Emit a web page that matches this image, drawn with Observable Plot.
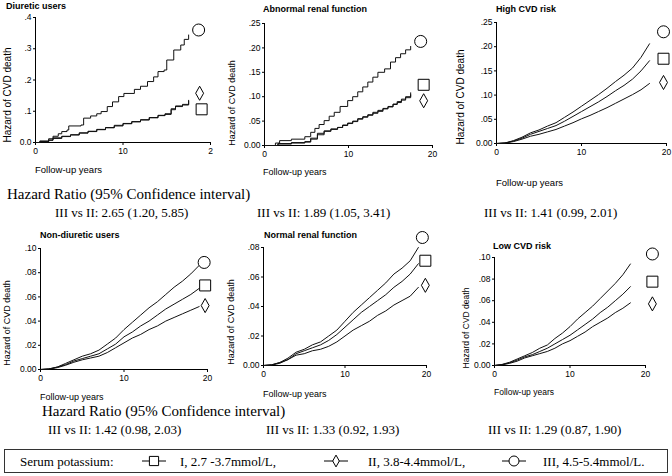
<!DOCTYPE html>
<html>
<head>
<meta charset="utf-8">
<script src="https://cdn.jsdelivr.net/npm/d3@7"></script>
<script src="https://cdn.jsdelivr.net/npm/@observablehq/plot@0.6"></script>
<style>
  body { margin: 0; background: #fff; }
  #root { position: relative; width: 672px; height: 476px; overflow: hidden; background: #fff; font-family: "Liberation Sans", Arial, sans-serif; color: #000; }
  .abs { position: absolute; white-space: nowrap; line-height: 1; }
  .ttl { font-weight: bold; font-size: 9px; transform: translateY(-50%); }
  .ylab { transform: translate(-50%, -50%) rotate(-90deg); }
  .xlab { transform: translateY(-50%); }
  .serif { font-family: "Liberation Serif", "Times New Roman", serif; }
  .hr { font-size: 15px; transform: translateY(-50%); }
  .cmp { font-size: 13px; transform: translateY(-50%); }
  .legend { position: absolute; left: 4px; top: 449px; width: 664px; height: 24px; border: 1px solid #333; box-sizing: border-box; }
  .pan { position: absolute; }
  .pan svg { max-width: none !important; }
</style>
</head>
<body>
<div id="root"></div>
<script>
// ---------- DATA ----------
const groups = ["I", "II", "III"];
const groupLabels = ["I, 2.7 -3.7mmol/L,", "II, 3.8-4.4mmol/L,", "III, 4.5-5.4mmol/L."];
const panelTitles = ["Diuretic users", "Abnormal renal function", "High CVD risk",
                     "Non-diuretic users", "Normal renal function", "Low CVD risk"];
const hazardRatios = ["III vs II: 2.65 (1.20, 5.85)", "III vs II: 1.89 (1.05, 3.41)", "III vs II: 1.41 (0.99, 2.01)",
                      "III vs II: 1.42 (0.98, 2.03)", "III vs II: 1.33 (0.92, 1.93)", "III vs II: 1.29 (0.87, 1.90)"];
const xTicks = [0, 10, 20];

// Panel 1: Diuretic users (step curves)
const p1_III_t = [0, 0.5, 1.5, 2.0, 2.6, 3.0, 3.6, 3.8, 5.2, 5.5, 6.3, 7.0, 7.5, 8.2, 8.8, 9.5, 10.1, 11.3, 12.0, 12.8, 13.5, 14.0, 14.7, 15.0, 15.8, 16.6, 17.0, 17.5];
const p1_III_y = [0, 0.005, 0.012, 0.02, 0.028, 0.035, 0.04, 0.053, 0.056, 0.078, 0.085, 0.092, 0.099, 0.115, 0.13, 0.147, 0.157, 0.17, 0.18, 0.195, 0.21, 0.227, 0.232, 0.264, 0.296, 0.312, 0.33, 0.344];
const p1_lo_t  = [0, 0.5, 1.5, 2.0, 3.0, 4.0, 5.0, 6.0, 7.0, 8.0, 9.0, 10.0, 11.0, 12.0, 13.0, 14.0, 14.8, 15.5, 16.0, 16.8, 17.5];
const p1_I_y   = [0, 0.003, 0.008, 0.015, 0.02, 0.024, 0.03, 0.036, 0.042, 0.047, 0.053, 0.06, 0.066, 0.073, 0.08, 0.086, 0.09, 0.105, 0.115, 0.12, 0.135];
const p1_II_y  = [0, 0.002, 0.007, 0.013, 0.019, 0.025, 0.031, 0.035, 0.041, 0.048, 0.055, 0.061, 0.067, 0.072, 0.079, 0.087, 0.092, 0.108, 0.117, 0.122, 0.132];

// Panel 2: Abnormal renal function (step curves)
const p2_III_t = [0, 1.3, 1.8, 3.2, 4.8, 5.5, 6.0, 6.5, 7.1, 7.7, 8.3, 9.0, 9.9, 10.5, 11.1, 11.7, 12.3, 12.9, 13.5, 14.3, 15.0, 15.6, 16.2, 16.8, 17.4];
const p2_III_y = [0, 0.005, 0.01, 0.013, 0.018, 0.027, 0.035, 0.043, 0.051, 0.06, 0.068, 0.08, 0.092, 0.1, 0.11, 0.12, 0.13, 0.14, 0.15, 0.157, 0.171, 0.18, 0.188, 0.196, 0.203];
const p2_lo_t  = [0, 1.6, 3.2, 4.8, 5.5, 6.3, 7.1, 7.9, 8.7, 9.3, 9.9, 10.5, 11.1, 11.7, 12.3, 12.9, 13.5, 14.1, 14.7, 15.3, 15.8, 16.3, 16.8, 17.4];
const p2_I_y   = [0, 0.004, 0.006, 0.008, 0.015, 0.025, 0.03, 0.034, 0.037, 0.041, 0.045, 0.05, 0.055, 0.059, 0.063, 0.068, 0.072, 0.076, 0.08, 0.085, 0.09, 0.095, 0.1, 0.108];
const p2_II_y  = [0, 0.003, 0.005, 0.007, 0.013, 0.022, 0.029, 0.033, 0.037, 0.042, 0.046, 0.049, 0.054, 0.058, 0.062, 0.066, 0.07, 0.075, 0.079, 0.084, 0.088, 0.093, 0.098, 0.104];

// Panel 3: High CVD risk
const p3_t     = [0, 1, 2, 3, 4, 5, 6, 7, 8, 9, 10, 11, 12, 13, 14, 15, 16, 17, 18];
const p3_III_y = [0, 0.001, 0.006, 0.013, 0.022, 0.028, 0.036, 0.043, 0.054, 0.065, 0.077, 0.089, 0.101, 0.114, 0.128, 0.141, 0.156, 0.178, 0.206];
const p3_I_y   = [0, 0.001, 0.005, 0.011, 0.019, 0.025, 0.031, 0.037, 0.046, 0.056, 0.066, 0.076, 0.086, 0.097, 0.109, 0.12, 0.133, 0.15, 0.171];
const p3_II_y  = [0, 0.001, 0.004, 0.009, 0.015, 0.019, 0.024, 0.029, 0.036, 0.043, 0.051, 0.058, 0.066, 0.074, 0.083, 0.092, 0.101, 0.111, 0.124];

// Panel 4: Non-diuretic users
const p4_t     = [0, 1, 2, 3, 4, 5, 6, 7, 8, 9, 10, 11, 12, 13, 14, 15, 16, 17, 18, 19];
const p4_III_y = [0, 0.0005, 0.002, 0.005, 0.008, 0.011, 0.013, 0.016, 0.021, 0.026, 0.033, 0.039, 0.045, 0.051, 0.056, 0.062, 0.068, 0.073, 0.079, 0.086];
const p4_I_y   = [0, 0.0004, 0.002, 0.004, 0.007, 0.009, 0.011, 0.013, 0.017, 0.021, 0.027, 0.031, 0.036, 0.04, 0.045, 0.05, 0.054, 0.058, 0.062, 0.067];
const p4_II_y  = [0, 0.0003, 0.0015, 0.0035, 0.006, 0.008, 0.0095, 0.011, 0.014, 0.018, 0.022, 0.026, 0.029, 0.033, 0.036, 0.04, 0.043, 0.046, 0.049, 0.052];

// Panel 5: Normal renal function
const p5_t     = [0, 1, 2, 3, 4, 5, 6, 7, 8, 9, 10, 11, 12, 13, 14, 15, 16, 17, 18, 19];
const p5_III_y = [0, 0.0005, 0.002, 0.005, 0.009, 0.011, 0.014, 0.016, 0.02, 0.024, 0.03, 0.036, 0.041, 0.046, 0.051, 0.056, 0.062, 0.066, 0.071, 0.08];
const p5_I_y   = [0, 0.0004, 0.002, 0.004, 0.008, 0.01, 0.012, 0.014, 0.017, 0.021, 0.026, 0.031, 0.036, 0.04, 0.044, 0.048, 0.053, 0.057, 0.062, 0.069];
const p5_II_y  = [0, 0.0003, 0.0015, 0.004, 0.007, 0.008, 0.01, 0.011, 0.013, 0.016, 0.02, 0.024, 0.027, 0.03, 0.034, 0.037, 0.041, 0.044, 0.047, 0.053];

// Panel 6: Low CVD risk
const p6_t     = [0, 1, 2, 3, 4, 5, 6, 7, 8, 9, 10, 11, 12, 13, 14, 15, 16, 17, 18];
const p6_III_y = [0, 0.001, 0.003, 0.006, 0.009, 0.012, 0.016, 0.019, 0.025, 0.03, 0.036, 0.043, 0.049, 0.055, 0.062, 0.069, 0.076, 0.084, 0.094];
const p6_I_y   = [0, 0.0008, 0.0025, 0.005, 0.008, 0.01, 0.013, 0.016, 0.02, 0.024, 0.028, 0.033, 0.038, 0.043, 0.049, 0.054, 0.06, 0.066, 0.073];
const p6_II_y  = [0, 0.0006, 0.002, 0.004, 0.007, 0.009, 0.011, 0.013, 0.016, 0.02, 0.023, 0.027, 0.031, 0.036, 0.04, 0.044, 0.049, 0.053, 0.058];

// ---------- helpers ----------
const root = document.getElementById("root");
function addText(cls, text, left, top, extra) {
  const d = document.createElement("div");
  d.className = "abs " + cls;
  d.textContent = text;
  d.style.left = left + "px";
  d.style.top = top + "px";
  if (extra) Object.assign(d.style, extra);
  root.appendChild(d);
  return d;
}
const tallDiamond = {
  draw(ctx, size) {
    const s = Math.sqrt(size), w = s * 0.36, h = s * 0.64;
    ctx.moveTo(0, -h); ctx.lineTo(w, 0); ctx.lineTo(0, h); ctx.lineTo(-w, 0); ctx.closePath();
  }
};
const symbols = {I: "square", II: tallDiamond, III: "circle"};
const radii = {I: 6.2, II: 6.2, III: 6};

function series(key, t, y) { return t.map((d, i) => ({s: key, t: d, v: y[i]})); }

function fmt1(d) { return d === 0 ? "0.0" : d3.format(".1f")(d).replace(/^0/, ""); }
function fmt2(d) { return d === 0 ? "0.00" : d3.format(".2f")(d).replace(/^0/, ""); }

function panel(cfg) {
  const rows = cfg.series.flat();
  const marks = [
    Plot.ruleX([0], {stroke: "#000", strokeWidth: 1}),
    Plot.ruleY([0], {stroke: "#000", strokeWidth: 1}),
    Plot.line(rows, {x: "t", y: "v", z: "s", curve: cfg.curve, stroke: "#111", strokeWidth: 1})
  ];
  for (const g of groups) {
    const pts = rows.filter(r => r.s === g);
    const last = pts[pts.length - 1];
    const o = cfg.markers[g];
    marks.push(Plot.dot([last], {x: "t", y: "v", symbol: symbols[g], r: radii[g], dx: o[0], dy: o[1],
      stroke: "#000", strokeWidth: 1, fill: "#fff"}));
  }
  const svg = Plot.plot({
    width: cfg.width, height: cfg.height,
    marginLeft: cfg.ml, marginRight: cfg.mr, marginTop: cfg.mt, marginBottom: cfg.mb,
    x: {domain: [0, 20], ticks: xTicks, tickFormat: cfg.xfmt || (d => String(d)), tickSize: 3, tickPadding: 2, label: null},
    y: {domain: [0, cfg.ymax], ticks: cfg.yticks, tickFormat: cfg.fmt, tickSize: 2, tickPadding: 2, label: null},
    style: {fontFamily: "'Liberation Sans', Arial, sans-serif", fontSize: "8.5px", color: "#000", background: "transparent", overflow: "visible", maxWidth: "none"},
    marks
  });
  svg.style.maxWidth = "none";
  const wrap = document.createElement("div");
  wrap.className = "pan";
  wrap.style.left = cfg.left + "px";
  wrap.style.top = cfg.top + "px";
  wrap.style.width = cfg.width + "px";
  wrap.style.height = cfg.height + "px";
  wrap.appendChild(svg);
  root.appendChild(wrap);
}

const yt25 = [0, 0.05, 0.1, 0.15, 0.2, 0.25];
const yt10 = [0, 0.02, 0.04, 0.06, 0.08, 0.1];

// the first panel's "20" label is cut to "2" in the source figure
panel({left: 0, top: 0, width: 224, height: 185, ml: 35, mr: 14, mt: 17, mb: 43,
  xfmt: d => d === 20 ? "2" : String(d),
  ymax: 0.4, yticks: [0, 0.1, 0.2, 0.3, 0.4], fmt: fmt1, curve: "step-after",
  series: [series("I", p1_lo_t, p1_I_y), series("II", p1_lo_t, p1_II_y), series("III", p1_III_t, p1_III_y)],
  markers: {I: [13, 9], II: [11, -8], III: [10, -5]}});
panel({left: 224, top: 0, width: 224, height: 185, ml: 40, mr: 16, mt: 23, mb: 40,
  ymax: 0.25, yticks: yt25, fmt: fmt2, curve: "step-after",
  series: [series("I", p2_lo_t, p2_I_y), series("II", p2_lo_t, p2_II_y), series("III", p2_III_t, p2_III_y)],
  markers: {I: [13, -8], II: [13, 6], III: [10, -5]}});
panel({left: 448, top: 0, width: 224, height: 185, ml: 48, mr: 6, mt: 22, mb: 42,
  ymax: 0.25, yticks: yt25, fmt: fmt2, curve: "linear",
  series: [series("I", p3_t, p3_I_y), series("II", p3_t, p3_II_y), series("III", p3_t, p3_III_y)],
  markers: {I: [14, -2], II: [14, -1], III: [14, -12]}});
panel({left: 0, top: 220, width: 224, height: 185, ml: 40, mr: 17, mt: 28, mb: 36,
  ymax: 0.1, yticks: yt10, fmt: fmt2, curve: "linear",
  series: [series("I", p4_t, p4_I_y), series("II", p4_t, p4_II_y), series("III", p4_t, p4_III_y)],
  markers: {I: [6, -3], II: [6, -1], III: [5, -3]}});
panel({left: 224, top: 220, width: 224, height: 185, ml: 39, mr: 22, mt: 27, mb: 40,
  ymax: 0.08, yticks: [0, 0.02, 0.04, 0.06, 0.08], fmt: fmt2, curve: "linear",
  series: [series("I", p5_t, p5_I_y), series("II", p5_t, p5_II_y), series("III", p5_t, p5_III_y)],
  markers: {I: [7, -3], II: [7, -2], III: [4, -10]}});
panel({left: 448, top: 220, width: 224, height: 185, ml: 46, mr: 27, mt: 37, mb: 40,
  ymax: 0.1, yticks: yt10, fmt: fmt2, curve: "linear",
  series: [series("I", p6_t, p6_I_y), series("II", p6_t, p6_II_y), series("III", p6_t, p6_III_y)],
  markers: {I: [22, -5], II: [22, 1], III: [22, -10]}});

// titles
const titlePos = [[6, 6], [263, 9], [496, 9], [40, 235], [264, 235], [493, 246]];
panelTitles.forEach((t, i) => addText("ttl", t, titlePos[i][0], titlePos[i][1]));
// y labels
const yLabPos = [[8, 95, 10], [232, 103, 9], [461, 97, 10], [7, 323, 9], [231, 322, 9], [466, 328, 8.5]];
yLabPos.forEach(p => addText("ylab", "Hazard of CVD death", p[0], p[1], {fontSize: p[2] + "px"}));
// x labels
const xLabPos = [[35, 170, 9.5], [263, 172, 9], [496, 183, 9.5], [40, 397, 9], [263, 394, 9], [494, 392, 8.5]];
xLabPos.forEach(p => addText("xlab", "Follow-up years", p[0], p[1], {fontSize: p[2] + "px"}));

// Hazard ratio text
addText("serif hr", "Hazard Ratio (95% Confidence interval)", 7, 194);
addText("serif hr", "Hazard Ratio (95% Confidence interval)", 42, 411);
const hrPos = [[55, 212], [257, 212], [484, 212], [48, 429], [266, 429], [488, 429]];
hazardRatios.forEach((t, i) => addText("serif cmp", t, hrPos[i][0], hrPos[i][1]));

// legend
const lg = document.createElement("div");
lg.className = "legend";
root.appendChild(lg);
addText("serif cmp", "Serum potassium:", 20, 461);
const legX = [[140, 180], [322, 368], [500, 543]];
groups.forEach((g, i) => {
  const ns = "http://www.w3.org/2000/svg";
  const s = document.createElementNS(ns, "svg");
  s.setAttribute("width", 28); s.setAttribute("height", 16);
  s.style.position = "absolute"; s.style.left = legX[i][0] + "px"; s.style.top = "453px";
  const type = g === "I" ? d3.symbolSquare : g === "III" ? d3.symbolCircle : tallDiamond;
  const path = d3.symbol(type, Math.PI * (g === "III" ? 5 : 5.2) ** 2)();
  s.innerHTML = `<line x1="2" x2="26" y1="8" y2="8" stroke="#000" stroke-width="1"/>` +
                `<path d="${path}" transform="translate(14,8)" fill="#fff" stroke="#000" stroke-width="1"/>`;
  root.appendChild(s);
  addText("serif cmp", groupLabels[i], legX[i][1], 461);
});
</script>
</body>
</html>
